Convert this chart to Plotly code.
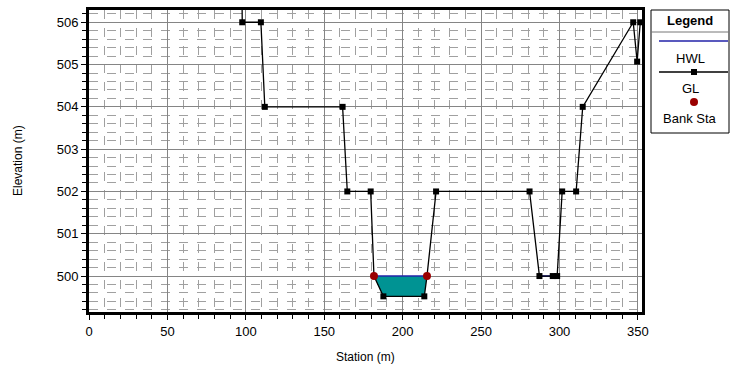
import plotly.graph_objects as go

# Ground line (station, elevation)
gl_station = [97.5, 97.7, 109.6, 112.1, 161.7, 164.7, 179.6, 181.7, 187.7, 213.8, 215.5,
              221.3, 280.9, 287.2, 295.7, 298.5, 301.7, 310.6, 314.8, 347.0, 349.5, 351.5]
gl_elev = [507.0, 506.0, 506.0, 504.0, 504.0, 502.0, 502.0, 500.0, 499.52, 499.52, 500.0,
           502.0, 502.0, 500.0, 500.0, 500.0, 502.0, 502.0, 504.0, 506.0, 505.07, 506.0]

# Bank stations
bank_station = [181.7, 215.5]
bank_elev = [500.0, 500.0]

# High water level
hwl_elev = 500.0
hwl_main_station = [181.7, 215.5]
hwl_pocket_station = [287.2, 298.5]

# Wetted channel polygon (ground between bank stations, closed by the HWL)
water_station = [181.7, 187.7, 213.8, 215.5]
water_ground = [500.0, 499.52, 499.52, 500.0]

x_ticks = [0, 50, 100, 150, 200, 250, 300, 350]
y_ticks = [500, 501, 502, 503, 504, 505, 506]

FONT = "Liberation Sans, Arial, sans-serif"
W, H = 733, 374
ML, MR, MT, MB = 89, 91, 10, 62

fig = go.Figure()

fig.add_trace(go.Scatter(
    x=water_station + [water_station[-1], water_station[0]],
    y=water_ground + [hwl_elev, hwl_elev],
    mode="lines", fill="toself", fillcolor="#009393",
    line=dict(color="#009393", width=0), hoverinfo="skip", showlegend=False))

for seg in (hwl_main_station, hwl_pocket_station):
    fig.add_trace(go.Scatter(x=seg, y=[hwl_elev] * len(seg), mode="lines",
                             line=dict(color="#2222a8", width=1.6), showlegend=False))

fig.add_trace(go.Scatter(x=gl_station, y=gl_elev, mode="lines+markers",
                         line=dict(color="black", width=1.3),
                         marker=dict(symbol="square", size=6, color="black"),
                         cliponaxis=True, showlegend=False))

fig.add_trace(go.Scatter(x=bank_station, y=bank_elev, mode="markers",
                         marker=dict(symbol="circle", size=8, color="#9a0000"),
                         showlegend=False))

axis_common = dict(showline=True, mirror=True, linecolor="black", linewidth=3,
                   ticks="outside", ticklen=5, tickcolor="black", tickwidth=1,
                   showgrid=True, gridcolor="#858585", gridwidth=1, zeroline=False,
                   automargin=False,
                   tickfont=dict(family=FONT, size=13, color="black"))

fig.update_xaxes(range=[0, 352.6], tickvals=x_ticks, **axis_common,
                 minor=dict(dtick=10, tick0=0, ticks="outside", ticklen=4, tickcolor="black",
                            showgrid=True, gridcolor="#a0a0a0", griddash="dash", gridwidth=1))
fig.update_yaxes(range=[499.15, 506.29], tickvals=y_ticks, **axis_common,
                 minor=dict(dtick=0.2, tick0=500, ticks="outside", ticklen=4, tickcolor="black",
                            showgrid=True, gridcolor="#a0a0a0", griddash="dash", gridwidth=1))

pw = W - ML - MR
ph = H - MT - MB
def px(x):
    return (x - ML) / pw
def py(y):
    return 1 - (y - MT) / ph

# Axis titles
fig.add_annotation(xref="paper", yref="paper", x=px(365), y=py(357), text="Station (m)",
                   showarrow=False, xanchor="center", yanchor="middle",
                   font=dict(family=FONT, size=12, color="black"))
fig.add_annotation(xref="paper", yref="paper", x=px(18), y=py(161), text="Elevation (m)",
                   textangle=-90, showarrow=False, xanchor="center", yanchor="middle",
                   font=dict(family=FONT, size=12, color="black"))

# Custom legend box (symbol above label)
fig.add_shape(type="rect", xref="paper", yref="paper", x0=px(651), x1=px(729),
              y0=py(133), y1=py(10), line=dict(color="black", width=1),
              fillcolor="white", layer="above")
fig.add_shape(type="line", xref="paper", yref="paper", x0=px(651), x1=px(729),
              y0=py(32), y1=py(32), line=dict(color="#777777", width=1))
fig.add_shape(type="line", xref="paper", yref="paper", x0=px(659), x1=px(728),
              y0=py(41), y1=py(41), line=dict(color="#2222a8", width=1.4))
fig.add_shape(type="line", xref="paper", yref="paper", x0=px(659), x1=px(728),
              y0=py(72), y1=py(72), line=dict(color="black", width=1.3))
fig.add_shape(type="rect", xref="paper", yref="paper", x0=px(691), x1=px(697),
              y0=py(75), y1=py(69), line=dict(color="black", width=0), fillcolor="black")
fig.add_shape(type="circle", xref="paper", yref="paper", x0=px(690), x1=px(698),
              y0=py(106), y1=py(98), line=dict(color="#9a0000", width=0), fillcolor="#9a0000")

for text, y, bold in (("Legend", 21, True), ("HWL", 58, False), ("GL", 88, False),
                      ("Bank Sta", 118, False)):
    fig.add_annotation(xref="paper", yref="paper", x=px(690), y=py(y),
                       text=f"<b>{text}</b>" if bold else text,
                       showarrow=False, xanchor="center", yanchor="middle",
                       font=dict(family=FONT, size=13, color="black"))

fig.update_layout(width=W, height=H, margin=dict(l=ML, r=MR, t=MT, b=MB),
                  paper_bgcolor="white", plot_bgcolor="white", showlegend=False)

fig.write_html("out.html", config={"displayModeBar": False},
               post_script="document.body.style.margin='0';document.body.style.overflow='hidden';")
